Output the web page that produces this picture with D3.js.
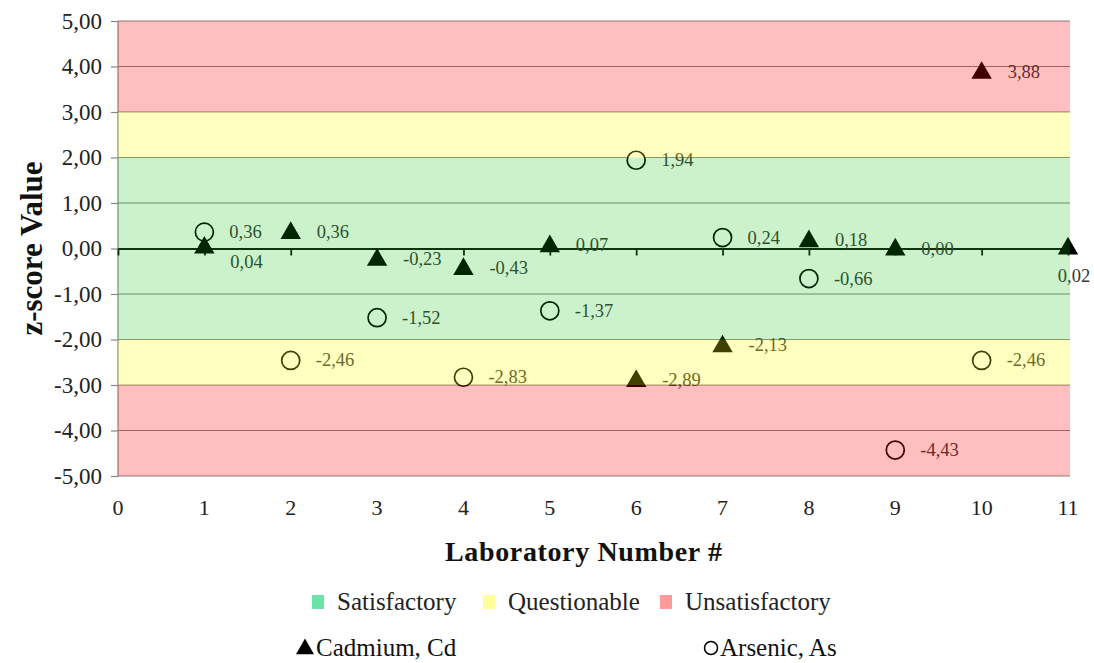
<!DOCTYPE html>
<html>
<head>
<meta charset="utf-8">
<script src="https://cdn.jsdelivr.net/npm/d3@7"></script>
<style>
body{margin:0;background:#fff}
svg{display:block}
</style>
</head>
<body>
<svg id="chart" width="1094" height="663"></svg>
<script>
// data
var labs=[1,2,3,4,5,6,7,8,9,10,11]
var cadmium=[0.04,0.36,-0.23,-0.43,0.07,-2.89,-2.13,0.18,0.00,3.88,0.02]
var arsenic=[0.36,-2.46,-1.52,-2.83,-1.37,1.94,0.24,-0.66,-4.43,-2.46,null]
var xTicks=[0,1,2,3,4,5,6,7,8,9,10,11]
var yTicks=[-5,-4,-3,-2,-1,0,1,2,3,4,5]
var bands=[
    {name:'Unsatisfactory',from:3,to:5,fill:'rgba(255,0,0,0.25)',key:'#ff9a9a'},
    {name:'Questionable',from:2,to:3,fill:'rgba(255,255,0,0.25)',key:'#ffff9c'},
    {name:'Satisfactory',from:-2,to:2,fill:'rgba(0,190,0,0.2)',key:'#6de3a8'},
    {name:'Questionable',from:-3,to:-2,fill:'rgba(255,255,0,0.25)',key:'#ffff9c'},
    {name:'Unsatisfactory',from:-5,to:-3,fill:'rgba(255,0,0,0.25)',key:'#ff9a9a'}
]
var legendBands=['Satisfactory','Questionable','Unsatisfactory']

var svg=d3.select('#chart')
var conf={left:118,right:1068,top:21,bottom:476}
var x=d3.scaleLinear().domain([0,11]).range([conf.left,conf.right])
var y=d3.scaleLinear().domain([-5,5]).range([conf.bottom,conf.top])
var fmt=v=>d3.format('.2f')(v).replace('.',',').replace('−','-')
var serif='"Liberation Serif","Times New Roman",serif'

// gridlines
svg.append('g').selectAll('line')
    .data(yTicks)
    .join('line')
    .attr('x1',conf.left).attr('x2',conf.right+2)
    .attr('y1',d=>y(d)).attr('y2',d=>y(d))
    .attr('stroke','#858585').attr('stroke-width',1.2)
svg.append('line')
    .attr('x1',conf.left).attr('x2',conf.left)
    .attr('y1',conf.top).attr('y2',conf.bottom)
    .attr('stroke','#858585').attr('stroke-width',1.2)

// y axis
var yAxis=svg.append('g')
    .attr('transform',`translate(${conf.left},0)`)
    .call(d3.axisLeft(y).tickValues(yTicks).tickFormat(fmt).tickSize(7).tickPadding(9))
yAxis.select('.domain').remove()
yAxis.selectAll('line').attr('stroke','#858585').attr('stroke-width',1.2)
yAxis.selectAll('text').attr('font-family',serif).attr('font-size',23).attr('fill','#222')

// zero axis with ticks
var xAxis=svg.append('g')
    .attr('transform',`translate(0,${y(0)})`)
    .call(d3.axisBottom(x).tickValues(xTicks).tickFormat('').tickSize(7).tickSizeOuter(0))
xAxis.select('.domain').attr('stroke','#111').attr('stroke-width',2)
xAxis.selectAll('line').attr('stroke','#111').attr('stroke-width',1.8)

// x tick labels
svg.append('g').selectAll('text')
    .data(xTicks)
    .join('text')
    .attr('x',d=>x(d)).attr('y',515)
    .attr('text-anchor','middle')
    .attr('font-family',serif).attr('font-size',22).attr('fill','#222')
    .text(d=>d)

// markers
var cdPts=labs.map((l,i)=>({lab:l,v:cadmium[i],as:arsenic[i]}))
var asPts=labs.map((l,i)=>({lab:l,v:arsenic[i]})).filter(d=>d.v!=null)
svg.append('g').selectAll('circle')
    .data(asPts)
    .join('circle')
    .attr('cx',d=>x(d.lab)).attr('cy',d=>y(d.v))
    .attr('r',9)
    .attr('fill','#fff').attr('stroke','#000').attr('stroke-width',1.7)
svg.append('g').selectAll('path')
    .data(cdPts)
    .join('path')
    .attr('d',d3.symbol(d3.symbolTriangle,180))
    .attr('transform',d=>`translate(${x(d.lab)},${y(d.v)+1})`)
    .attr('fill','#000')

// labels
var lab=svg.append('g').attr('font-family',serif).attr('font-size',18.5).attr('fill','#383838')
lab.selectAll('text.as')
    .data(asPts)
    .join('text')
    .attr('x',d=>x(d.lab)+25).attr('y',d=>y(d.v)+6)
    .text(d=>fmt(d.v))
lab.selectAll('text.cd')
    .data(cdPts)
    .join('text')
    .each(function(d){
        var t=d3.select(this)
        var last=d.lab==labs[labs.length-1]
        var clash=d.as!=null&&Math.abs(d.as-d.v)<0.5
        if(last) t.attr('x',x(d.lab)+6).attr('y',y(d.v)+34).attr('text-anchor','middle')
        else if(clash) t.attr('x',x(d.lab)+26).attr('y',y(d.v)+21)
        else t.attr('x',x(d.lab)+26).attr('y',y(d.v)+6)
    })
    .text(d=>fmt(d.v))

// band overlays
svg.append('g').selectAll('rect')
    .data(bands)
    .join('rect')
    .attr('x',conf.left).attr('width',conf.right+2-conf.left)
    .attr('y',d=>y(d.to)).attr('height',d=>y(d.from)-y(d.to))
    .attr('fill',d=>d.fill)

// axis titles
svg.append('text')
    .attr('transform',`translate(42,${(conf.top+conf.bottom)/2}) rotate(-90)`)
    .attr('text-anchor','middle')
    .attr('font-family',serif).attr('font-size',31).attr('font-weight','bold').attr('fill','#111')
    .text('z-score Value')
svg.append('text')
    .attr('x',445).attr('y',561)
    .attr('textLength',277).attr('lengthAdjust','spacing')
    .attr('font-family',serif).attr('font-size',28).attr('font-weight','bold').attr('fill','#111')
    .text('Laboratory Number #')

// legend
var legX=[312,483,660]
var leg=svg.append('g').selectAll('g')
    .data(legendBands)
    .join('g')
    .attr('transform',(d,i)=>`translate(${legX[i]},595)`)
leg.append('rect').attr('width',12).attr('height',14)
    .attr('fill',d=>bands.find(b=>b.name==d).key)
leg.append('text').attr('x',25).attr('y',15)
    .attr('font-family',serif).attr('font-size',25).attr('fill','#222')
    .text(d=>d)

var leg2=svg.append('g').attr('font-family',serif).attr('font-size',25).attr('fill','#111')
leg2.append('path').attr('d',d3.symbol(d3.symbolTriangle,140))
    .attr('transform','translate(305,649)').attr('fill','#000')
leg2.append('text').attr('x',316).attr('y',656).text('Cadmium, Cd')
leg2.append('circle').attr('cx',711).attr('cy',648).attr('r',6.5)
    .attr('fill','none').attr('stroke','#000').attr('stroke-width',1.5)
leg2.append('text').attr('x',720).attr('y',656).text('Arsenic, As')
</script>
</body>
</html>
